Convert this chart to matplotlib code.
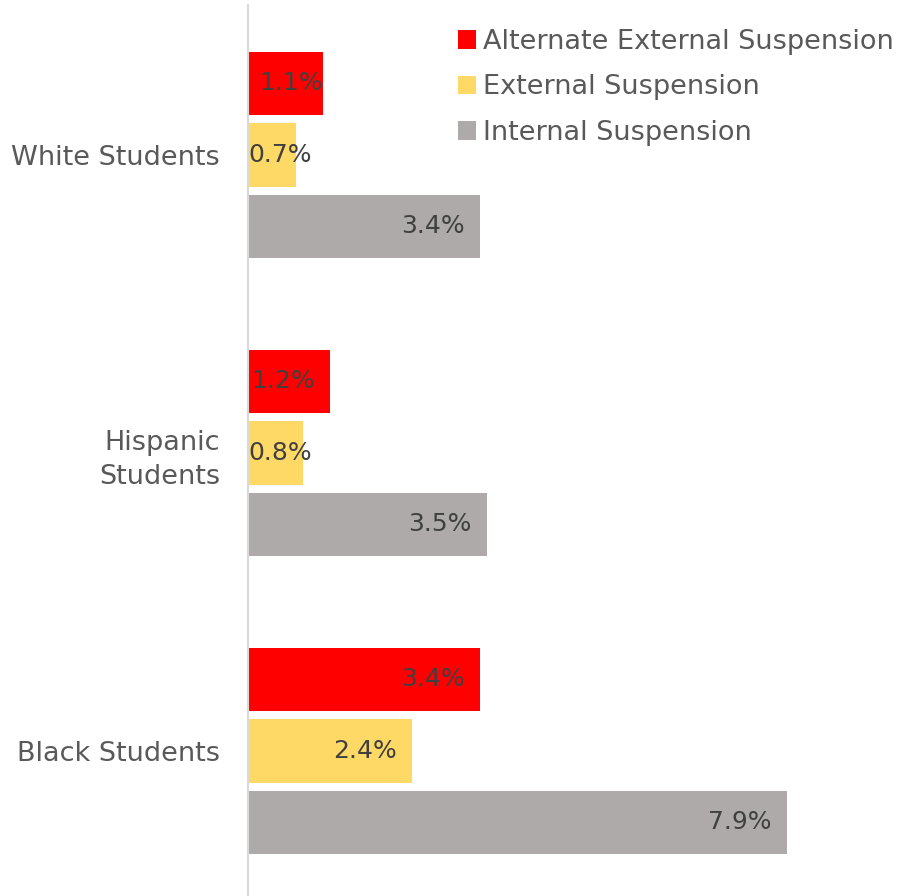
import matplotlib
matplotlib.use("Agg")
import matplotlib.pyplot as plt
from matplotlib.patches import Patch
import numpy as np

# Dados
groups = ["White Students", "Hispanic\nStudents", "Black Students"]
series_names = ["Alternate External Suspension", "External Suspension", "Internal Suspension"]
alt_external = [1.1, 1.2, 3.4]
external = [0.7, 0.8, 2.4]
internal = [3.4, 3.5, 7.9]

colors = ["#FF0000", "#FFD966", "#AEAAAA"]
label_color = "#404040"
text_color = "#595959"

plt.rcParams["font.family"] = ["DejaVu Sans"]

fig = plt.figure(figsize=(9.02, 8.96), dpi=100)
ax = fig.add_axes([248 / 902, 0, 654 / 902, 891 / 896])

y = np.arange(len(groups))
offsets = [-0.24, 0.0, 0.24]
height = 0.213

texts = []
for serie, off, color in zip([alt_external, external, internal], offsets, colors):
    bars = ax.barh(y + off, serie, height=height, color=color, edgecolor="none")
    for b, v in zip(bars, serie):
        t = ax.annotate("%.1f%%" % v, xy=(v, b.get_y() + b.get_height() / 2),
                        xytext=(-11, 0), textcoords="offset points",
                        ha="right", va="center", fontsize=18, color=label_color)
        texts.append((t, v))

ax.set_xlim(0, 654 / 68.2)
ax.set_ylim(2.487, -0.503)
ax.set_yticks(y)
ax.set_yticklabels(groups, fontsize=19.5, color=text_color, linespacing=1.4)
ax.tick_params(axis="y", length=0, pad=20)
ax.set_xticks([])

for side in ["top", "right", "bottom"]:
    ax.spines[side].set_visible(False)
ax.spines["left"].set_color("#D9D9D9")
ax.spines["left"].set_linewidth(1.5)

# Rotulos que nao cabem dentro da barra
fig.canvas.draw()
renderer = fig.canvas.get_renderer()
x_axis = ax.get_window_extent(renderer).x0
for t, v in texts:
    if t.get_window_extent(renderer).x0 < x_axis:
        t.set_position((0, 0))
        if t.get_window_extent(renderer).x0 < x_axis:
            t.xy = (0, t.xy[1])
            t.set_ha("left")

handles = [Patch(facecolor=c, edgecolor="none") for c in colors]
leg = fig.legend(handles, series_names, loc="upper left",
                 bbox_to_anchor=(458 / 902, 1 - 29 / 896), frameon=False,
                 fontsize=19.5, handlelength=0.67, handleheight=0.67,
                 handletextpad=0.25, labelspacing=0.72, borderpad=0, borderaxespad=0)
for txt in leg.get_texts():
    txt.set_color(text_color)

fig.savefig("out.png", dpi=100)
